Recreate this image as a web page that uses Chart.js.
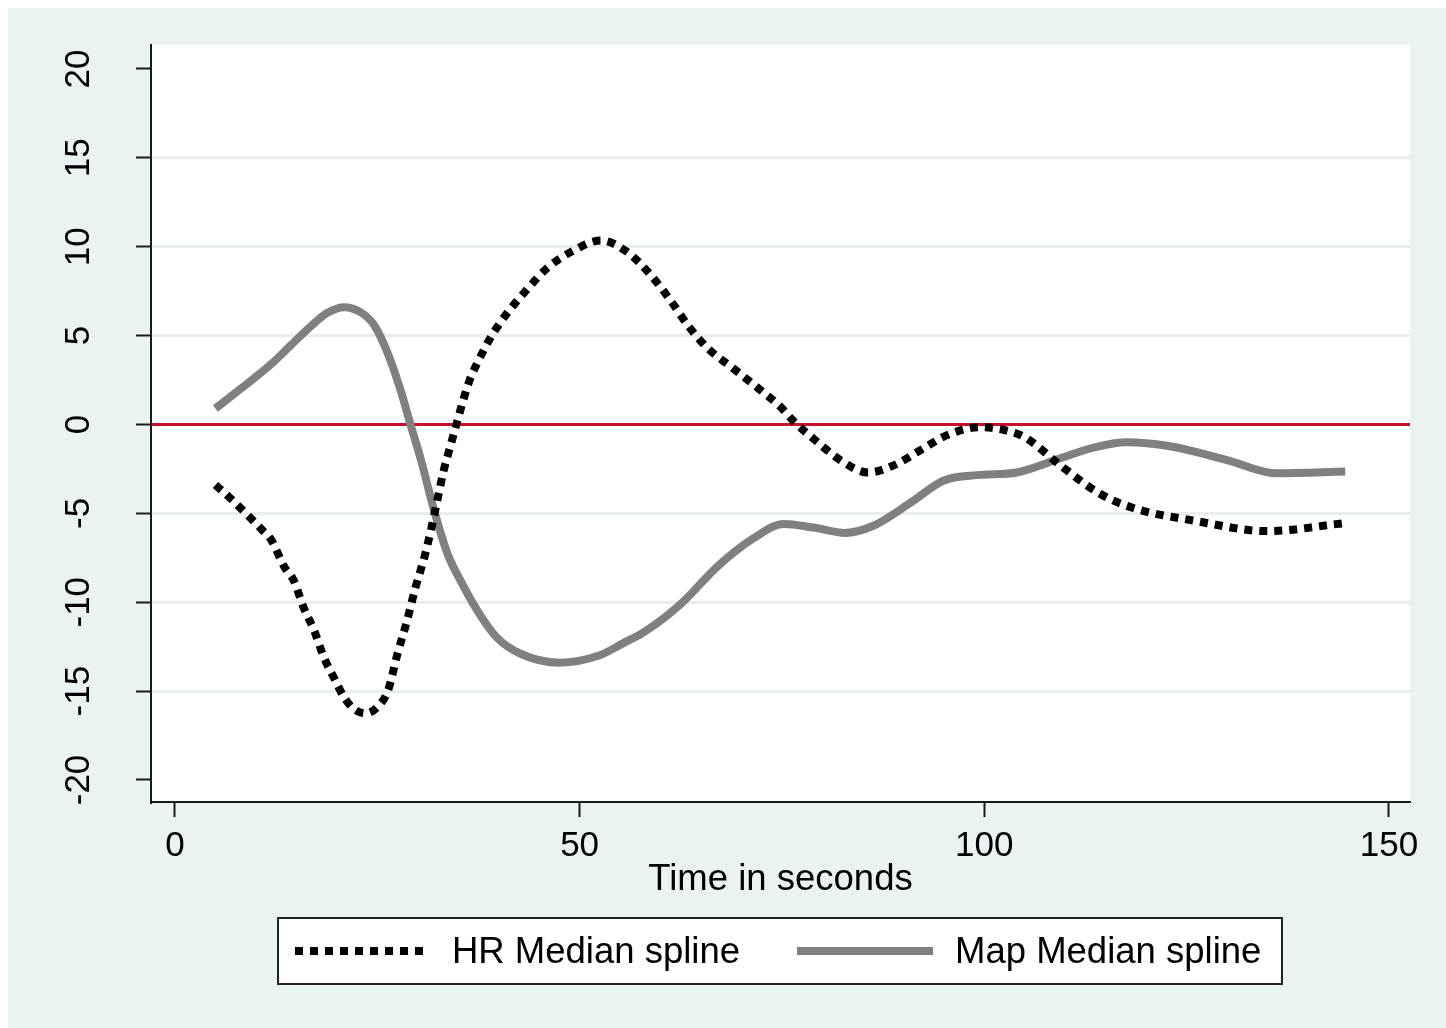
<!DOCTYPE html>
<html>
<head>
<meta charset="utf-8">
<script src="https://cdn.jsdelivr.net/npm/chart.js@4.4.1/dist/chart.umd.min.js"></script>
<style>
  html, body { margin: 0; padding: 0; background: #fff; }
  canvas { display: block; }
</style>
</head>
<body>
<canvas id="chart" width="1446" height="1028"></canvas>
<script>
// values
const hrTime = [5, 6.5, 9.2, 10.6, 11.9, 13.5, 14.7, 15.9, 17.2, 18.4, 19.7, 20.9, 22.1, 23.6, 25.0,
  26.3, 27.5, 28.7, 29.7, 30.8, 31.6, 32.4, 33.2, 34.1, 34.9, 35.7, 36.5, 37.4, 39.0, 40.0, 41.1,
  43.6, 46.0, 49.3, 52.6, 55.9, 58.8, 61.2, 63.5, 65.8, 69.0, 71.9, 74.8, 76.4, 78.9, 82.2, 85.6,
  88.8, 92.1, 95.4, 99.5, 103.6, 105.3, 109.4, 114.3, 118.4, 125.8, 135.0, 144.5];
const hrMedian = [-3.4, -4.0, -5.2, -5.85, -6.5, -8.0, -8.8, -10.3, -11.6, -13.1, -14.3, -15.35, -16.0, -16.25, -15.9,
  -15.0, -12.9, -11.0, -9.2, -7.5, -6.0, -4.3, -2.6, -1.1, 0.2, 1.5, 2.6, 3.5, 4.9, 5.6, 6.3,
  7.65, 8.8, 9.8, 10.35, 9.7, 8.4, 7.0, 5.5, 4.3, 3.15, 2.1, 1.0, 0.2, -0.8, -2.0, -2.7,
  -2.3, -1.45, -0.6, -0.15, -0.45, -0.8, -2.3, -3.9, -4.7, -5.4, -6.0, -5.55];

const mapTime = [5, 8.1, 11.9, 14.3, 17.2, 18.9, 20.9, 23.0, 24.6, 26.3, 27.9, 29.1, 30.4, 32.0, 33.7,
  35.3, 37.4, 39.8, 42.7, 47.5, 52.4, 55.4, 57.9, 62.5, 67.0, 71.5, 75.2, 78.9, 82.8, 86.3, 90.9,
  95.0, 99.1, 104.0, 109.4, 113.5, 117.6, 122.6, 130.0, 136.2, 144.6];
const mapMedian = [0.9, 2.0, 3.4, 4.45, 5.7, 6.3, 6.6, 6.3, 5.6, 4.0, 1.9, 0.0, -2.0, -4.8, -7.3,
  -8.8, -10.5, -12.0, -12.9, -13.4, -13.0, -12.3, -11.7, -10.1, -8.0, -6.4, -5.6, -5.8, -6.1, -5.7, -4.4,
  -3.15, -2.85, -2.7, -1.9, -1.3, -1.0, -1.2, -2.0, -2.75, -2.65];

const seriesLabels = ['HR Median spline', 'Map Median spline'];
const xTickValues = [0, 50, 100, 150];
const yTickValues = [-20, -15, -10, -5, 0, 5, 10, 15, 20];
const xTitle = 'Time in seconds';

const FONT = "'Liberation Sans', Arial, sans-serif";
const BG = '#EAF2F3';

// stata-like backdrop: light blue graph region, white plot region
const backdrop = {
  id: 'backdrop',
  beforeDraw(chart) {
    const { ctx, width, height, chartArea } = chart;
    ctx.save();
    ctx.fillStyle = '#fff';
    ctx.fillRect(0, 0, width, height);
    ctx.fillStyle = BG;
    ctx.fillRect(8, 8, width - 8, height - 8);
    ctx.fillStyle = '#fff';
    ctx.fillRect(chartArea.left, chartArea.top, chartArea.right - chartArea.left, chartArea.bottom - chartArea.top);
    ctx.restore();
  }
};

// y labels are vertical in the original, chart.js won't rotate them on a y axis
const yLabels = {
  id: 'yLabels',
  afterDraw(chart) {
    const { ctx } = chart;
    const ys = chart.scales.y;
    ctx.save();
    ctx.fillStyle = '#000';
    ctx.font = '35px ' + FONT;
    ctx.textAlign = 'center';
    ctx.textBaseline = 'middle';
    yTickValues.forEach(v => {
      ctx.save();
      ctx.translate(78, ys.getPixelForValue(v));
      ctx.rotate(-Math.PI / 2);
      ctx.fillText(String(v), 0, 1);
      ctx.restore();
    });
    ctx.restore();
  }
};

// boxed legend under the axis title
const boxLegend = {
  id: 'boxLegend',
  afterDraw(chart) {
    const { ctx } = chart;
    const ds = chart.data.datasets;
    const top = 918, bottom = 984, cy = (top + bottom) / 2;
    ctx.save();
    ctx.fillStyle = '#fff';
    ctx.fillRect(278, top, 1004, bottom - top);
    ctx.strokeStyle = '#222';
    ctx.lineWidth = 2;
    ctx.strokeRect(278, top, 1004, bottom - top);

    const items = [
      { x0: 295, x1: 429, tx: 452 },
      { x0: 797, x1: 933, tx: 955 }
    ];
    items.forEach((it, i) => {
      ctx.beginPath();
      ctx.strokeStyle = ds[i].borderColor;
      ctx.lineWidth = ds[i].borderWidth;
      ctx.setLineDash(ds[i].borderDash || []);
      ctx.lineCap = 'butt';
      ctx.moveTo(it.x0, cy);
      ctx.lineTo(it.x1, cy);
      ctx.stroke();
      ctx.setLineDash([]);
      ctx.fillStyle = '#000';
      ctx.font = '36.5px ' + FONT;
      ctx.textAlign = 'left';
      ctx.textBaseline = 'middle';
      ctx.fillText(ds[i].label, it.tx, cy + 2);
    });
    ctx.restore();
  }
};

new Chart(document.getElementById('chart'), {
  type: 'line',
  data: {
    datasets: [
      {
        label: seriesLabels[0],
        data: hrTime.map((t, i) => ({ x: t, y: hrMedian[i] })),
        borderColor: '#000',
        borderWidth: 8,
        borderDash: [8, 7],
        pointRadius: 0,
        cubicInterpolationMode: 'monotone',
        fill: false
      },
      {
        label: seriesLabels[1],
        data: mapTime.map((t, i) => ({ x: t, y: mapMedian[i] })),
        borderColor: '#808080',
        borderWidth: 8,
        pointRadius: 0,
        cubicInterpolationMode: 'monotone',
        fill: false
      }
    ]
  },
  options: {
    responsive: false,
    animation: false,
    devicePixelRatio: 1,
    layout: { padding: { left: 0, top: 45, right: 36, bottom: 128 } },
    plugins: {
      legend: { display: false },
      tooltip: { enabled: false }
    },
    scales: {
      x: {
        type: 'linear',
        min: -2.96,
        max: 152.6,
        afterBuildTicks: s => { s.ticks = xTickValues.map(v => ({ value: v })); },
        afterFit: s => { s.height = 98; },
        border: { display: true, color: '#1a1a1a', width: 2 },
        grid: { drawOnChartArea: false, drawTicks: true, tickLength: 15, tickColor: '#1a1a1a', tickWidth: 2 },
        ticks: { color: '#000', font: { family: FONT, size: 35 }, padding: 8, maxRotation: 0, autoSkip: false },
        title: { display: true, text: xTitle, color: '#000', font: { family: FONT, size: 36.5 }, padding: { top: 0, bottom: -2 } }
      },
      y: {
        type: 'linear',
        min: -21.24,
        max: 21.35,
        afterBuildTicks: s => { s.ticks = yTickValues.map(v => ({ value: v })); },
        afterFit: s => { s.width = 151; },
        border: { display: true, color: '#1a1a1a', width: 2 },
        grid: {
          color: c => {
            const v = c.tick ? c.tick.value : null;
            if (v === 0) return '#C8102E';
            if (v === 20 || v === -20) return 'rgba(0,0,0,0)';
            return '#E6EEF1';
          },
          lineWidth: 3,
          drawTicks: true,
          tickLength: 15,
          tickColor: '#1a1a1a',
          tickWidth: 2
        },
        ticks: { display: false }
      }
    }
  },
  plugins: [backdrop, yLabels, boxLegend]
});
</script>
</body>
</html>
